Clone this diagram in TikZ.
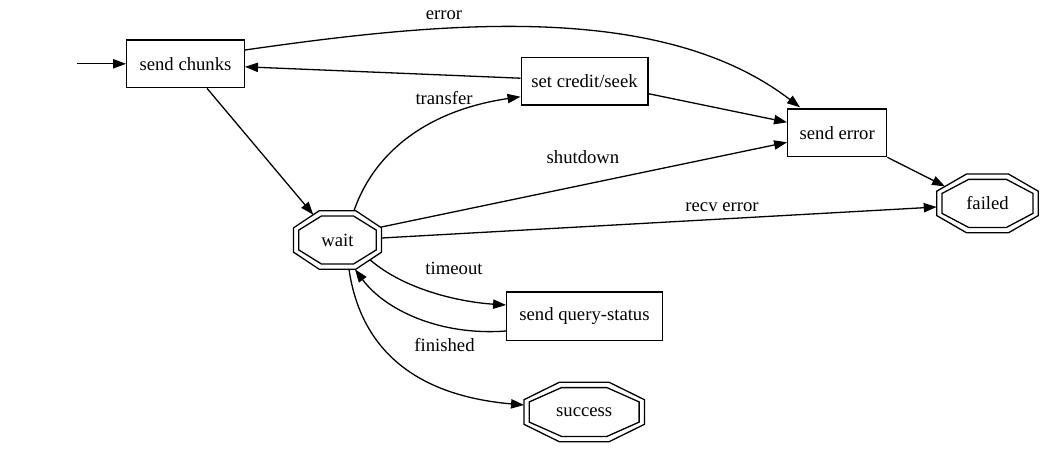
\documentclass[tikz,border=0pt]{standalone}
\usepackage{fontspec}
\setmainfont{Liberation Serif}
\usetikzlibrary{arrows.meta,calc}
\newcommand{\gvfont}{\fontsize{18.67}{22}\selectfont}
\newcommand{\dbloct}[3]{%
  \begin{scope}[shift={(#1.center)}]
    \draw[gv] (-#2,-0.4142*#3) -- (-0.4142*#2,-#3) -- (0.4142*#2,-#3) -- (#2,-0.4142*#3)
      -- (#2,0.4142*#3) -- (0.4142*#2,#3) -- (-0.4142*#2,#3) -- (-#2,0.4142*#3) -- cycle;
    \draw[gv] (-#2+5.3,-0.4142*#3+0.4142*5.3) -- (-0.4142*#2+0.4142*5.3,-#3+5.3) -- (0.4142*#2-0.4142*5.3,-#3+5.3) -- (#2-5.3,-0.4142*#3+0.4142*5.3)
      -- (#2-5.3,0.4142*#3-0.4142*5.3) -- (0.4142*#2-0.4142*5.3,#3-5.3) -- (-0.4142*#2+0.4142*5.3,#3-5.3) -- (-#2+5.3,0.4142*#3-0.4142*5.3) -- cycle;
  \end{scope}}
\begin{document}
\begin{tikzpicture}[x=1pt,y=-1pt,
  gv/.style={line width=1.3pt},
  box/.style={draw, gv, rectangle, inner sep=0pt, minimum height=47.7pt, font=\gvfont},
  octnode/.style={rectangle, inner sep=0pt, font=\gvfont},
  lbl/.style={inner sep=0pt, font=\gvfont, anchor=base},
  edge/.style={gv, -{Triangle[length=13pt,width=9.3pt]}},
]
\fill[white] (0,0) rectangle (1043,453);
\path[use as bounding box] (0,0) rectangle (1043,453);

% nodes
\node[box, minimum width=117.6pt] (schunks) at (185.5,63.8) {send chunks};
\node[box, minimum width=126.7pt] (credit) at (584.5,81.2) {set credit/seek};
\node[box, minimum width=99pt] (senderr) at (837.2,132.8) {send error};
\node[box, minimum width=155.6pt, minimum height=48.3pt] (query) at (584.5,316) {send query-status};
\node[octnode, minimum width=88pt, minimum height=58.6pt] (wait) at (337.5,240) {wait};
\node[octnode, minimum width=101.6pt, minimum height=58.7pt] (failed) at (987.5,203.4) {failed};
\node[octnode, minimum width=120.4pt, minimum height=59.4pt] (success) at (584.2,412) {success};
\dbloct{wait}{44}{29.3}
\dbloct{failed}{50.8}{29.35}
\dbloct{success}{60.2}{29.7}
\coordinate (start) at (77.3,63.8);

% edges
\draw[edge] (start) -- (schunks.west);
\draw[edge] ($(schunks.south)+(21.5,0)$) -- ($(wait)+(-24.2,-25.3)$);
\draw[edge] ($(schunks.east)+(0,-13.8)$) .. controls (440,22) and (660,0) .. ($(senderr.north west)+(13,-1)$);
\draw[edge] ($(credit.west)+(0,-3)$) -- ($(schunks.east)+(0,3)$);
\draw[edge] ($(credit.east)+(0,12.5)$) -- ($(senderr.west)+(0,-10.5)$);
\draw[edge] ($(wait)+(16.5,-29.3)$) .. controls (375,150) and (430,110) .. ($(credit.west)+(0,15.5)$);
\draw[edge] ($(wait)+(43,-12.8)$) -- ($(senderr.west)+(0,9.5)$);
\draw[edge] ($(wait)+(44,-2)$) -- ($(failed)+(-50.8,3.6)$);
\draw[edge] (senderr.south east) -- ($(failed)+(-42.5,-17)$);
\draw[edge] ($(wait)+(32.5,19.8)$) .. controls (405,290) and (460,302) .. ($(query.west)+(0,-11)$);
\draw[edge] ($(query.west)+(0,15)$) .. controls (440,336) and (385,310) .. ($(wait)+(17.5,29.3)$);
\draw[edge] ($(wait)+(11.5,29.3)$) .. controls (360,345) and (410,395) .. ($(success)+(-60.2,-7)$);

% labels
\node[lbl] (lerror) at (444,19.5) {error};
\node[lbl] (ltransfer) at (444,104) {transfer};
\node[lbl] (lshutdown) at (583,163) {shutdown};
\node[lbl] (lrecv) at (722,211) {recv error};
\node[lbl] (ltimeout) at (454,274.3) {timeout};
\node[lbl] (lfinished) at (444.5,351.7) {finished};
\end{tikzpicture}
\end{document}
